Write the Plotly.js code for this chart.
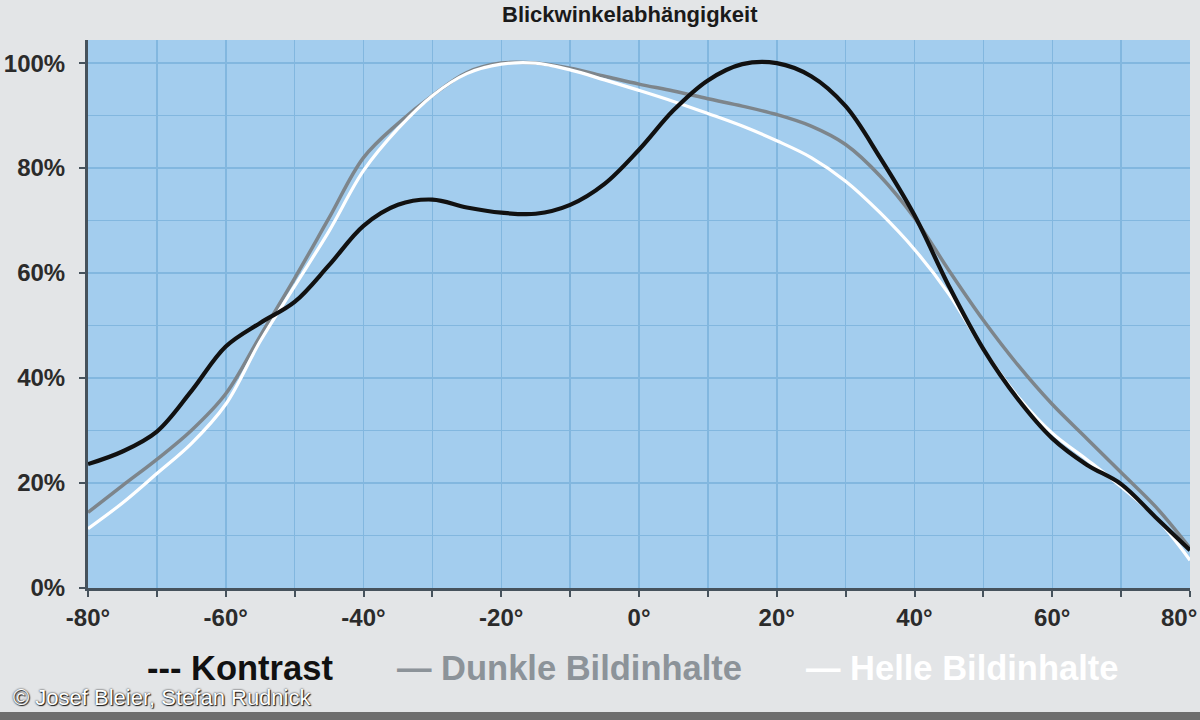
<!DOCTYPE html>
<html>
<head>
<meta charset="utf-8">
<script src="https://cdn.plot.ly/plotly-3.0.1.min.js"></script>
<style>
  html, body { margin: 0; padding: 0; background: #e3e5e7; }
  #chart { width: 1200px; height: 720px; }
</style>
</head>
<body>
<div id="chart"></div>
<script>
// Viewing angle in degrees
const angles = [-80,-75,-70,-65,-60,-55,-50,-45,-40,-35,-30,-25,-20,-15,-10,-5,0,5,10,15,20,25,30,35,40,45,50,55,60,65,70,75,80];

// Series values in percent
const kontrast = [23.6,26,29.8,37.5,46,50.5,54.5,61.5,69,73,74,72.5,71.5,71.3,73,77,83.5,91,96.7,99.8,100,97.5,91.8,82,71,57.5,45.5,36,28.5,23.5,19.8,13.5,7.2];
const dunkle   = [14.4,19.5,24.5,30,37,48,59,70.5,82,88.5,93.8,98.2,100,100,99,97.5,96,94.7,93.2,91.8,90.2,88,84.5,78.5,70.5,60.5,51,42.5,35,28.5,22,15.5,7.6];
const helle    = [11.3,16.2,21.8,27.5,35,47,57.5,68,79.5,87.5,93.8,98,99.8,100,98.7,96.8,94.8,92.7,90.4,88,85.2,82,77.5,71.5,64.5,56,45.5,36.5,29.5,24.5,19.3,13.5,5.3];

// Tick labels
const xTickVals = [-80,-70,-60,-50,-40,-30,-20,-10,0,10,20,30,40,50,60,70,80];
const xTickText = ['-80°','','-60°','','-40°','','-20°','','0°','','20°','','40°','','60°','',''];
const xEndLabel = '80°';
const yTickVals = [0,20,40,60,80,100];
const yTickText = ['0%','20%','40%','60%','80%','100%'];

// Text
const titleText = 'Blickwinkelabhängigkeit';
const seriesNames = ['--- Kontrast', '— Dunkle Bildinhalte', '— Helle Bildinhalte'];
const creditText = '© Josef Bleier, Stefan Rudnick';

const FONT = 'Liberation Sans, Arial, sans-serif';
const GRID = '#82b7df';
const AXIS = '#46525c';

const traces = [
  { x: angles, y: dunkle, name: seriesNames[1], mode: 'lines',
    line: { color: '#7d858b', width: 3.5, shape: 'spline', smoothing: 1 } },
  { x: angles, y: helle, name: seriesNames[2], mode: 'lines',
    line: { color: '#ffffff', width: 3.2, shape: 'spline', smoothing: 1 } },
  { x: angles, y: kontrast, name: seriesNames[0], mode: 'lines',
    line: { color: '#111111', width: 4.2, shape: 'spline', smoothing: 1 } }
];

const tickFont = { family: FONT, size: 24, color: '#2b2b2b', weight: 'bold' };

const layout = {
  width: 1200, height: 720,
  paper_bgcolor: '#e3e5e7',
  plot_bgcolor: '#a3cdee',
  showlegend: false,
  margin: { l: 88, r: 10, t: 40, b: 132 },
  font: { family: FONT, color: '#2b2b2b' },
  xaxis: {
    range: [-80, 80],
    tickmode: 'array', tickvals: xTickVals, ticktext: xTickText,
    showgrid: true, gridcolor: GRID, gridwidth: 1.5,
    zeroline: false,
    showline: true, linecolor: AXIS, linewidth: 3,
    ticks: 'outside', ticklen: 6, tickwidth: 2, tickcolor: AXIS,
    tickfont: tickFont,
    fixedrange: true
  },
  yaxis: {
    range: [0, 104.4],
    tickmode: 'array', tickvals: yTickVals, ticktext: yTickText,
    showgrid: true, gridcolor: GRID, gridwidth: 1.5,
    minor: { tickmode: 'linear', tick0: 0, dtick: 10, showgrid: true, gridcolor: GRID, gridwidth: 1.5, ticks: '' },
    zeroline: false,
    showline: true, linecolor: AXIS, linewidth: 3,
    ticks: 'outside', ticklen: 6, tickwidth: 2, tickcolor: AXIS,
    ticklabelstandoff: 9,
    tickfont: tickFont,
    fixedrange: true
  },
  shapes: [
    { type: 'rect', xref: 'paper', yref: 'paper', x0: -0.1, x1: 1.02, y0: -0.2409, y1: -0.2263,
      fillcolor: '#6e6e6e', line: { width: 0 }, layer: 'below' }
  ],
  annotations: [
    { text: titleText, xref: 'paper', yref: 'paper', x: 0.4918, y: 1.0725,
      xanchor: 'center', yanchor: 'top', showarrow: false,
      font: { family: FONT, size: 22, color: '#1a1a1a', weight: 'bold' } },
    { text: xEndLabel, xref: 'paper', yref: 'paper', x: 1.0082, y: -0.0547,
      xanchor: 'right', yanchor: 'middle', showarrow: false,
      font: tickFont },
    { text: seriesNames[0], xref: 'paper', yref: 'paper', x: 0.0517, y: -0.146,
      xanchor: 'left', yanchor: 'middle', showarrow: false,
      font: { family: FONT, size: 34.5, color: '#111111', weight: 'bold' } },
    { text: seriesNames[1], xref: 'paper', yref: 'paper', x: 0.279, y: -0.146,
      xanchor: 'left', yanchor: 'middle', showarrow: false,
      font: { family: FONT, size: 34.5, color: '#8c9399', weight: 'bold' } },
    { text: seriesNames[2], xref: 'paper', yref: 'paper', x: 0.650, y: -0.146,
      xanchor: 'left', yanchor: 'middle', showarrow: false,
      font: { family: FONT, size: 34.5, color: '#ffffff', weight: 'bold' } },
    { text: creditText, xref: 'paper', yref: 'paper', x: -0.07, y: -0.2007,
      xanchor: 'left', yanchor: 'middle', showarrow: false,
      font: { family: FONT, size: 22, color: '#ffffff', shadow: '0px 0px 2px #000, 1px 1px 1px #222' } }
  ]
};

Plotly.newPlot('chart', traces, layout, { staticPlot: true, displayModeBar: false });
</script>
</body>
</html>
